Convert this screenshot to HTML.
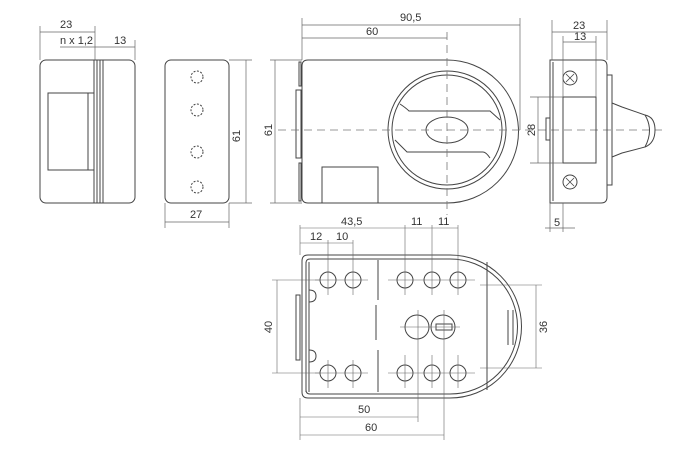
<!DOCTYPE html>
<html><head><style>body{margin:0;background:#fff}svg{display:block}text{font-family:"Liberation Sans",sans-serif;font-size:11px;fill:#333}</style></head><body>
<svg width="679" height="460" viewBox="0 0 679 460" xmlns="http://www.w3.org/2000/svg">
<g fill="none" stroke="#444" stroke-width="1">
<rect x="40" y="60" width="95" height="143" rx="6"/>
<line x1="94" y1="60" x2="94" y2="203"/><line x1="97" y1="60" x2="97" y2="203"/><line x1="100" y1="60" x2="100" y2="203"/><line x1="103" y1="60" x2="103" y2="203"/>
<rect x="48" y="93" width="40" height="77"/><polyline points="88,93 94,93"/><polyline points="88,170 94,170"/>
<g stroke-width="0.7" stroke="#666">
<line x1="40" y1="26" x2="40" y2="60"/><line x1="95" y1="26" x2="95" y2="60"/><line x1="135" y1="40" x2="135" y2="60"/>
<line x1="40" y1="32" x2="95" y2="32"/><line x1="60" y1="47" x2="135" y2="47"/>
</g>
<rect x="165" y="60" width="64" height="143" rx="6"/>
<g stroke-dasharray="2,1.5"><circle cx="197" cy="77" r="6"/><circle cx="197" cy="110" r="6"/><circle cx="197" cy="152" r="6"/><circle cx="197" cy="187" r="6"/></g>
<g stroke-width="0.7" stroke="#666">
<line x1="229" y1="60" x2="252" y2="60"/><line x1="229" y1="203" x2="252" y2="203"/><line x1="246" y1="60" x2="246" y2="203"/>
<line x1="165" y1="203" x2="165" y2="228"/><line x1="229" y1="203" x2="229" y2="228"/><line x1="165" y1="222" x2="229" y2="222"/>
</g>
<path d="M308 60 H447 A71.5 71.5 0 0 1 447 203 H308 Q302 203 302 197 V66 Q302 60 308 60 Z"/>
<rect x="299" y="62" width="2" height="24"/><rect x="296" y="90" width="5" height="68"/><rect x="299" y="163" width="2" height="38"/>
<circle cx="447" cy="130" r="59"/><circle cx="447" cy="130" r="55"/>
<ellipse cx="447" cy="130" rx="21" ry="13"/>
<path d="M400 104 Q406 108 409 111 H490 L500 120"/><path d="M395 140 L407 152 H483 Q486 152 490 158"/>
<polyline points="322,203 322,167 378,167 378,203"/>
<g stroke-width="0.7" stroke="#666">
<line x1="302" y1="18" x2="302" y2="60"/><line x1="520" y1="18" x2="520" y2="130"/>
<line x1="302" y1="25" x2="520" y2="25"/><line x1="302" y1="38" x2="447" y2="38"/>
<line x1="270" y1="60" x2="302" y2="60"/><line x1="270" y1="203" x2="302" y2="203"/><line x1="275" y1="60" x2="275" y2="203"/>
</g>
<g stroke-dasharray="8,5" stroke="#777" stroke-width="0.8"><line x1="278" y1="130" x2="662" y2="130"/><line x1="447" y1="32" x2="447" y2="215"/></g>
<path d="M550 60 H601 Q607 60 607 66 V197 Q607 203 601 203 H550 Z"/>
<line x1="553" y1="62" x2="553" y2="201"/>
<rect x="546" y="118" width="4" height="22"/>
<circle cx="570" cy="78" r="7"/><circle cx="570" cy="182" r="7"/>
<path d="M566 74 L574 82 M574 74 L566 82 M566 178 L574 186 M574 178 L566 186" stroke-width="0.8"/>
<rect x="563" y="97" width="33" height="66"/>
<rect x="607" y="75" width="5" height="110"/>
<path d="M612 103 L622 107 L645 115 Q654 130 645 147 L622 153 L612 157"/>
<path d="M645 115 Q655 117 655 130 Q655 143 645 147"/>
<g stroke-width="0.7" stroke="#666">
<line x1="552" y1="20" x2="552" y2="60"/><line x1="607" y1="20" x2="607" y2="60"/><line x1="552" y1="32" x2="607" y2="32"/>
<line x1="563" y1="36" x2="563" y2="97"/><line x1="596" y1="36" x2="596" y2="97"/><line x1="563" y1="42" x2="596" y2="42"/>
<line x1="530" y1="97" x2="563" y2="97"/><line x1="530" y1="163" x2="563" y2="163"/><line x1="538" y1="97" x2="538" y2="163"/>
<line x1="550" y1="203" x2="550" y2="232"/><line x1="563" y1="203" x2="563" y2="232"/><line x1="545" y1="228" x2="575" y2="228"/>
</g>
<path d="M308 255 H450 A71.5 71.5 0 0 1 450 398 H308 Q302 398 302 392 V261 Q302 255 308 255 Z"/>
<path d="M310 259 H450 A67.5 67.5 0 0 1 450 394 H310 Q306 394 306 390 V263 Q306 259 310 259 Z"/>
<rect x="296" y="295" width="4" height="65"/>
<line x1="306" y1="262" x2="306" y2="392"/><line x1="309" y1="262" x2="309" y2="392"/>
<path d="M309 290 Q316 290 316 296 Q316 302 309 302"/><path d="M309 350 Q316 350 316 356 Q316 362 309 362"/>
<path d="M378 260 V300 M376 305 V340 M378 350 V392"/>
<line x1="487" y1="262" x2="487" y2="390"/>
<path d="M508 310 V345 M513 310 V345"/>
<g><circle cx="328" cy="280" r="8"/><circle cx="353" cy="280" r="8"/><circle cx="405" cy="280" r="8"/><circle cx="432" cy="280" r="8"/><circle cx="458" cy="280" r="8"/>
<circle cx="328" cy="373" r="8"/><circle cx="353" cy="373" r="8"/><circle cx="405" cy="373" r="8"/><circle cx="432" cy="373" r="8"/><circle cx="458" cy="373" r="8"/>
<circle cx="417" cy="327" r="12"/><circle cx="443" cy="327" r="12"/><rect x="436" y="324" width="16" height="6"/></g>
<g stroke-width="0.6" stroke="#666">
<line x1="315" y1="280" x2="368" y2="280"/><line x1="388" y1="280" x2="475" y2="280"/><line x1="315" y1="373" x2="368" y2="373"/><line x1="388" y1="373" x2="475" y2="373"/>
<line x1="400" y1="327" x2="460" y2="327"/>
<line x1="328" y1="240" x2="328" y2="295"/><line x1="353" y1="240" x2="353" y2="295"/><line x1="328" y1="360" x2="328" y2="388"/><line x1="353" y1="360" x2="353" y2="388"/>
<line x1="405" y1="225" x2="405" y2="295"/><line x1="432" y1="225" x2="432" y2="295"/><line x1="458" y1="225" x2="458" y2="295"/>
<line x1="405" y1="355" x2="405" y2="388"/><line x1="432" y1="355" x2="432" y2="388"/><line x1="458" y1="355" x2="458" y2="388"/>
<line x1="418" y1="310" x2="418" y2="422"/><line x1="444" y1="310" x2="444" y2="440"/>
<line x1="300" y1="225" x2="300" y2="255"/><line x1="300" y1="398" x2="300" y2="440"/>
<line x1="300" y1="228" x2="458" y2="228"/><line x1="300" y1="243" x2="353" y2="243"/>
<line x1="272" y1="280" x2="320" y2="280"/><line x1="272" y1="373" x2="320" y2="373"/><line x1="277" y1="280" x2="277" y2="373"/>
<line x1="480" y1="285" x2="542" y2="285"/><line x1="480" y1="368" x2="542" y2="368"/><line x1="536" y1="285" x2="536" y2="368"/>
<line x1="300" y1="417" x2="418" y2="417"/><line x1="300" y1="435" x2="444" y2="435"/>
</g>
</g>
<text x="60" y="28">23</text><text x="60" y="44">n x 1,2</text><text x="114" y="44">13</text>
<text x="190" y="218">27</text><text x="240" y="136" transform="rotate(-90 240 136)" text-anchor="middle">61</text>
<text x="400" y="21">90,5</text><text x="366" y="35">60</text>
<text x="272" y="130" transform="rotate(-90 272 130)" text-anchor="middle">61</text>
<text x="573" y="29">23</text><text x="574" y="40">13</text>
<text x="535" y="130" transform="rotate(-90 535 130)" text-anchor="middle">28</text>
<text x="554" y="226">5</text>
<text x="341" y="225">43,5</text><text x="411" y="225">11</text><text x="438" y="225">11</text>
<text x="310" y="240">12</text><text x="336" y="240">10</text>
<text x="272" y="327" transform="rotate(-90 272 327)" text-anchor="middle">40</text>
<text x="547" y="327" transform="rotate(-90 547 327)" text-anchor="middle">36</text>
<text x="358" y="413">50</text><text x="365" y="431">60</text>
</svg>
</body></html>
